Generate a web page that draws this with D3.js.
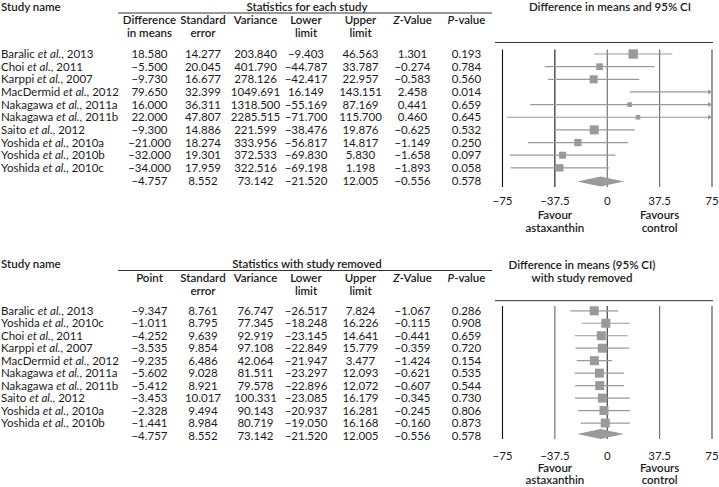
<!DOCTYPE html>
<html><head><meta charset="utf-8">
<script src="https://cdn.jsdelivr.net/npm/d3@7"></script>
<style>body{margin:0;background:#fff}svg{display:block}</style>
</head><body>
<script>
// ---------- data: top panel (each study) ----------
const topAuthors = ["Baralic","Choi","Karppi","MacDermid","Nakagawa","Nakagawa","Saito","Yoshida","Yoshida","Yoshida"];
const topYears   = ["2013","2011","2007","2012","2011a","2011b","2012","2010a","2010b","2010c"];
const topDiff  = [18.580,-5.500,-9.730,79.650,16.000,22.000,-9.300,-21.000,-32.000,-34.000,-4.757];
const topSE    = [14.277,20.045,16.677,32.399,36.311,47.807,14.886,18.274,19.301,17.959,8.552];
const topVar   = [203.840,401.790,278.126,1049.691,1318.500,2285.515,221.599,333.956,372.533,322.516,73.142];
const topLower = [-9.403,-44.787,-42.417,16.149,-55.169,-71.700,-38.476,-56.817,-69.830,-69.198,-21.520];
const topUpper = [46.563,33.787,22.957,143.151,87.169,115.700,19.876,14.817,5.830,1.198,12.005];
const topZ     = [1.301,-0.274,-0.583,2.458,0.441,0.460,-0.625,-1.149,-1.658,-1.893,-0.556];
const topP     = [0.193,0.784,0.560,0.014,0.659,0.645,0.532,0.250,0.097,0.058,0.578];

// ---------- data: bottom panel (study removed) ----------
const botAuthors = ["Baralic","Yoshida","Choi","Karppi","MacDermid","Nakagawa","Nakagawa","Saito","Yoshida","Yoshida"];
const botYears   = ["2013","2010c","2011","2007","2012","2011a","2011b","2012","2010a","2010b"];
const botPoint = [-9.347,-1.011,-4.252,-3.535,-9.235,-5.602,-5.412,-3.453,-2.328,-1.441,-4.757];
const botSE    = [8.761,8.795,9.639,9.854,6.486,9.028,8.921,10.017,9.494,8.984,8.552];
const botVar   = [76.747,77.345,92.919,97.108,42.064,81.511,79.578,100.331,90.143,80.719,73.142];
const botLower = [-26.517,-18.248,-23.145,-22.849,-21.947,-23.297,-22.896,-23.085,-20.937,-19.050,-21.520];
const botUpper = [7.824,16.226,14.641,15.779,3.477,12.093,12.072,16.179,16.281,16.168,12.005];
const botZ     = [-1.067,-0.115,-0.441,-0.359,-1.424,-0.621,-0.607,-0.345,-0.245,-0.160,-0.556];
const botP     = [0.286,0.908,0.659,0.720,0.154,0.535,0.544,0.730,0.806,0.873,0.578];

const xTicks = [-75,-37.5,0,37.5,75];
const xTickLabels = ["−75","−37.5","0","37.5","75"];

// ---------- drawing ----------
const W = 719, H = 487;
const FONT = "Lato, 'Open Sans', sans-serif";
const svg = d3.select("body").append("svg").attr("width", W).attr("height", H)
  .style("font-family", FONT).style("font-size", "11.5px");

const ink = "#1a1a1a", markGrey = "#9a9a9a";
const colX = [149.5, 203, 255.5, 306, 360.5, 412.5, 466.5];
const x = d3.scaleLinear().domain([-75, 75]).range([502.5, 712]);
const f3 = d3.format(".3f");
const fmt = v => f3(v).replace("-", "−");

function panel(cfg) {
  const g = svg.append("g");
  const n = cfg.authors.length;
  const y = d3.scaleLinear().domain([0, n]).range(cfg.rowRange);

  // Headers
  g.append("text").attr("x", 1).attr("y", cfg.hTitle).attr("dy", "0.35em")
    .attr("font-weight", 600).attr("fill", ink).text("Study name");
  g.append("text").attr("x", 307).attr("y", cfg.hTitle).attr("dy", "0.35em")
    .attr("text-anchor", "middle").attr("font-weight", 600).attr("fill", ink).text(cfg.statsTitle);
  g.append("line").attr("x1", 118).attr("x2", 492).attr("y1", cfg.hRule).attr("y2", cfg.hRule)
    .attr("stroke", "#333").attr("stroke-width", 1);

  cfg.colHeads.forEach((h, i) => {
    h.forEach((line, j) => {
      const t = g.append("text").attr("x", colX[i]).attr("y", cfg.hLines[j]).attr("dy", "0.35em")
        .attr("text-anchor", "middle").attr("font-weight", 600).attr("fill", ink);
      if (line === "Z-Value" || line === "P-value") {
        t.append("tspan").attr("font-style", "italic").text(line[0]);
        t.append("tspan").text(line.slice(1));
      } else t.text(line);
    });
  });

  // Plot title
  cfg.plotTitle.forEach((line, j) => {
    g.append("text").attr("x", cfg.plotTitleX).attr("y", cfg.plotTitleY[j]).attr("dy", "0.35em")
      .attr("text-anchor", "middle").attr("font-weight", 600).attr("fill", ink).text(line);
  });
  g.append("line").attr("x1", 495).attr("x2", 713).attr("y1", cfg.plotRule).attr("y2", cfg.plotRule)
    .attr("stroke", "#333").attr("stroke-width", 1);

  // Study names
  d3.range(n).forEach(i => {
    const t = g.append("text").attr("x", 1).attr("y", y(i)).attr("dy", "0.35em").attr("fill", ink);
    t.append("tspan").text(cfg.authors[i] + " ");
    t.append("tspan").attr("font-style", "italic").text("et al.");
    t.append("tspan").text(", " + cfg.years[i]);
  });

  // Numeric columns
  cfg.cols.forEach((arr, c) => {
    g.selectAll(null).data(arr).enter().append("text")
      .attr("x", colX[c]).attr("y", (d, i) => y(i)).attr("dy", "0.35em")
      .attr("text-anchor", "middle").attr("fill", ink).text(fmt);
  });

  // Reference lines
  g.selectAll(null).data(xTicks).enter().append("line")
    .attr("x1", d => x(d)).attr("x2", d => x(d))
    .attr("y1", cfg.vTop).attr("y2", cfg.vBot)
    .attr("stroke", (d, i) => cfg.vColors[i]).attr("stroke-width", 1.1);

  // Whiskers and squares
  const pts = cfg.point.slice(0, n), lo = cfg.lower.slice(0, n), hi = cfg.upper.slice(0, n);
  d3.range(n).forEach(i => {
    const l = Math.max(lo[i], -75), r = Math.min(hi[i], 75);
    g.append("line").attr("x1", x(l)).attr("x2", x(r)).attr("y1", y(i)).attr("y2", y(i))
      .attr("stroke", markGrey).attr("stroke-width", 1.2);
    if (hi[i] > 75) {
      const ax = x(75), ay = y(i);
      g.append("path").attr("d", `M${ax},${ay}L${ax - 4},${ay - 2.5}L${ax - 4},${ay + 2.5}Z`).attr("fill", markGrey);
    }
    if (lo[i] < -75) {
      const ax = x(-75), ay = y(i);
      g.append("path").attr("d", `M${ax},${ay}L${ax + 4},${ay - 2.5}L${ax + 4},${ay + 2.5}Z`).attr("fill", markGrey);
    }
    if (pts[i] >= -75 && pts[i] <= 75) {
      const s = cfg.size(i);
      g.append("rect").attr("x", x(pts[i]) - s / 2).attr("y", y(i) - s / 2)
        .attr("width", s).attr("height", s).attr("fill", markGrey);
    }
  });

  // Summary diamond
  const sy = y(n) + cfg.diamondShift, sp = cfg.point[n];
  g.append("path")
    .attr("d", `M${x(cfg.lower[n])},${sy}L${x(sp)},${sy - 5}L${x(cfg.upper[n])},${sy}L${x(sp)},${sy + 5}Z`)
    .attr("fill", markGrey);

  // Tick labels
  g.selectAll(null).data(xTicks).enter().append("text")
    .attr("x", d => x(d)).attr("y", cfg.tickY).attr("dy", "0.35em")
    .attr("text-anchor", "middle").attr("fill", ink).text((d, i) => xTickLabels[i]);

  // Favour labels
  [["Favour", "astaxanthin", -37.5], ["Favours", "control", 37.5]].forEach(([a, b, v]) => {
    g.append("text").attr("x", x(v)).attr("y", cfg.favY[0]).attr("dy", "0.35em")
      .attr("text-anchor", "middle").attr("font-weight", 600).attr("fill", ink).text(a);
    g.append("text").attr("x", x(v)).attr("y", cfg.favY[1]).attr("dy", "0.35em")
      .attr("text-anchor", "middle").attr("font-weight", 600).attr("fill", ink).text(b);
  });
}

const topW = topVar.slice(0, 10).map(v => Math.sqrt(1 / v));
const topWMax = d3.max(topW);

panel({
  authors: topAuthors, years: topYears,
  statsTitle: "Statistics for each study",
  colHeads: [["Difference", "in means"], ["Standard", "error"], ["Variance"], ["Lower", "limit"], ["Upper", "limit"], ["Z-Value"], ["P-value"]],
  hTitle: 7, hRule: 13, hLines: [19.5, 33],
  plotTitle: ["Difference in means and 95% CI"], plotTitleX: 610, plotTitleY: [7], plotRule: 42.5,
  rowRange: [54, 180.5], diamondShift: 1,
  cols: [topDiff, topSE, topVar, topLower, topUpper, topZ, topP],
  point: topDiff, lower: topLower, upper: topUpper,
  size: i => Math.max(4.6, 9.4 * topW[i] / topWMax),
  vTop: 49.5, vBot: 187, vColors: ["#111", "#111", "#666", "#666", "#444"],
  tickY: 201, favY: [215, 227.5]
});

panel({
  authors: botAuthors, years: botYears,
  statsTitle: "Statistics with study removed",
  colHeads: [["Point"], ["Standard", "error"], ["Variance"], ["Lower", "limit"], ["Upper", "limit"], ["Z-Value"], ["P-value"]],
  hTitle: 264, hRule: 270.5, hLines: [277.5, 291],
  plotTitle: ["Difference in means (95% CI)", "with study removed"], plotTitleX: 582, plotTitleY: [265, 277.7], plotRule: 300.7,
  rowRange: [310.8, 435.5], diamondShift: -1.5,
  cols: [botPoint, botSE, botVar, botLower, botUpper, botZ, botP],
  point: botPoint, lower: botLower, upper: botUpper,
  size: i => 9,
  vTop: 306, vBot: 439, vColors: ["#111", "#666", "#333", "#666", "#444"],
  tickY: 456, favY: [468, 480.3]
});
</script>
</body></html>
